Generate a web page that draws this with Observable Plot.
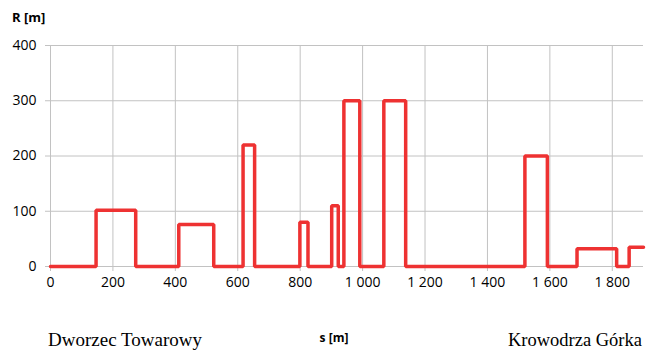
<!DOCTYPE html>
<html>
<head>
<meta charset="utf-8">
<script src="https://cdn.jsdelivr.net/npm/d3@7"></script>
<script src="https://cdn.jsdelivr.net/npm/@observablehq/plot@0.6"></script>
<style>
body { margin: 0; background: #fff; }
#chart svg { display: block; }
</style>
</head>
<body>
<div id="chart"></div>
<script>
// Breakpoints of the radius profile (step-after)
const sPoints = [0, 146, 273, 411, 523, 617, 654, 799, 825, 901, 922, 940, 991, 1068, 1138, 1520, 1592, 1687, 1814, 1854, 1900];
const rValues = [0, 102, 0, 76, 0, 220, 0, 80, 0, 110, 0, 300, 0, 300, 0, 200, 0, 32, 0, 35, 35];
const xTicks = [0, 200, 400, 600, 800, 1000, 1200, 1400, 1600, 1800];
const yTicks = [0, 100, 200, 300, 400];
const yLabel = "R [m]";
const xLabel = "s [m]";
const startStation = "Dworzec Towarowy";
const endStation = "Krowodrza Górka";

const data = sPoints.map((s, i) => ({s, r: rValues[i]}));
const fmt = d3.formatLocale({decimal: ",", thousands: " ", grouping: [3], currency: ["", ""]}).format(",d");

const W = 653, H = 350;
const gridColor = "#c2c2c2";
const plot = Plot.plot({
  width: W,
  height: H,
  marginLeft: 50,
  marginRight: 10,
  marginTop: 45,
  marginBottom: 84,
  style: {fontFamily: "'Open Sans', sans-serif", fontSize: "14px", color: "#000", background: "#fff"},
  x: {domain: [0, 1900], ticks: xTicks, tickFormat: fmt, label: null},
  y: {domain: [0, 400], ticks: yTicks, label: null},
  marks: [
    Plot.gridX(xTicks, {stroke: gridColor, strokeOpacity: 1, strokeWidth: 1}),
    Plot.gridY(yTicks, {stroke: gridColor, strokeOpacity: 1, strokeWidth: 1}),
    Plot.axisX(xTicks, {tickSize: 5, tickPadding: 6, stroke: gridColor, tickFormat: fmt, label: null, fontSize: 14}),
    Plot.axisY(yTicks, {tickSize: 5, tickPadding: 9, stroke: gridColor, label: null, fontSize: 14}),
    Plot.line(data, {x: "s", y: "r", curve: "step-after", stroke: "#ee3232", strokeWidth: 3.5, strokeLinejoin: "miter"})
  ]
});

const svg = d3.select(plot);
svg.append("text").text(yLabel)
  .attr("x", 12).attr("y", 22).attr("text-anchor", "start")
  .attr("font-family", "'Open Sans', sans-serif").attr("font-weight", "bold").attr("font-size", 13).attr("fill", "#000");
svg.append("text").text(xLabel)
  .attr("x", 334).attr("y", 342).attr("text-anchor", "middle")
  .attr("font-family", "'Open Sans', sans-serif").attr("font-weight", "bold").attr("font-size", 12).attr("fill", "#000");
svg.append("text").text(startStation)
  .attr("x", 48).attr("y", 346).attr("text-anchor", "start")
  .attr("font-family", "'Liberation Serif', serif").attr("font-size", 19).attr("fill", "#000");
svg.append("text").text(endStation)
  .attr("x", 642).attr("y", 346).attr("text-anchor", "end")
  .attr("font-family", "'Liberation Serif', serif").attr("font-size", 18.5).attr("fill", "#000");

document.getElementById("chart").appendChild(plot);
</script>
</body>
</html>
